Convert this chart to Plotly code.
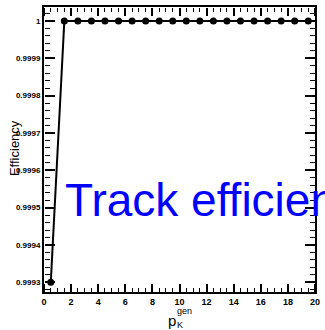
import plotly.graph_objects as go

# Bin centres of the kaon generated momentum and the measured efficiency per bin
p_gen = [0.5, 1.5, 2.5, 3.5, 4.5, 5.5, 6.5, 7.5, 8.5, 9.5,
         10.5, 11.5, 12.5, 13.5, 14.5, 15.5, 16.5, 17.5, 18.5, 19.5]
efficiency = [0.99930, 1.0, 1.0, 1.0, 1.0, 1.0, 1.0, 1.0, 1.0, 1.0,
              1.0, 1.0, 1.0, 1.0, 1.0, 1.0, 1.0, 1.0, 1.0, 1.0]

y_ticks = [0.9993, 0.9994, 0.9995, 0.9996, 0.9997, 0.9998, 0.9999, 1.0]
y_tick_text = ["0.9993", "0.9994", "0.9995", "0.9996", "0.9997", "0.9998", "0.9999", "1"]
x_ticks = [0, 2, 4, 6, 8, 10, 12, 14, 16, 18, 20]

X_RANGE = [0, 20]
Y_RANGE = [0.99927411, 1.0000374]

W, H = 325, 330
L, R, T, B = 44, 5, 6, 38
PW, PH = W - L - R, H - T - B

FONT = "Liberation Sans, Arial, Helvetica, sans-serif"

fig = go.Figure()
fig.add_trace(go.Scatter(
    x=p_gen, y=efficiency, mode="lines+markers",
    line=dict(color="black", width=2),
    marker=dict(color="black", size=7, symbol="circle"),
    showlegend=False, cliponaxis=False,
))
# Transparent copies that attach the tick-only overlay axes
for xa, ya in (("x2", "y2"), ("x3", "y3")):
    fig.add_trace(go.Scatter(
        x=p_gen, y=efficiency, xaxis=xa, yaxis=ya, mode="markers",
        marker=dict(opacity=0), hoverinfo="skip", showlegend=False,
    ))

# Frame and tick labels
fig.update_layout(
    xaxis=dict(
        range=X_RANGE, tickvals=x_ticks, ticks="",
        showline=True, linecolor="black", linewidth=2, mirror=True,
        showgrid=False, zeroline=False,
        tickfont=dict(family=FONT, size=9, color="black", weight="bold"),
    ),
    yaxis=dict(
        range=Y_RANGE, tickvals=y_ticks, ticktext=y_tick_text, ticks="",
        showline=True, linecolor="black", linewidth=2, mirror=True,
        showgrid=False, zeroline=False,
        tickfont=dict(family=FONT, size=8, color="black", weight="bold"),
    ),
)

# Tick marks pointing into the frame on all four sides
x_minor = dict(dtick=0.5, tick0=0, ticks="outside", ticklen=4,
               tickcolor="black", tickwidth=1.2, showgrid=False)
y_minor = dict(dtick=0.00002, tick0=0.9993, ticks="outside", ticklen=5,
               tickcolor="black", tickwidth=1.2, showgrid=False)

def x_ticker(side, pos):
    return dict(overlaying="x", range=X_RANGE, anchor="free", position=pos,
                side=side, tickvals=x_ticks, ticks="outside", ticklen=8, tickwidth=1.5,
                tickcolor="black", showticklabels=False, showline=False,
                showgrid=False, zeroline=False, minor=x_minor)

def y_ticker(side, pos):
    return dict(overlaying="y", range=Y_RANGE, anchor="free", position=pos,
                side=side, tickvals=y_ticks, ticks="outside", ticklen=10, tickwidth=1.5,
                tickcolor="black", showticklabels=False, showline=False,
                showgrid=False, zeroline=False, minor=y_minor)

fig.update_layout(
    xaxis2=x_ticker("top", 0), xaxis3=x_ticker("bottom", 1),
    yaxis2=y_ticker("right", 0), yaxis3=y_ticker("left", 1),
)

def px_x(px):
    return (px - L) / PW

def px_y(py):
    return 1 - (py - T) / PH

annotations = [
    # y-axis title
    dict(text="Efficiency", x=px_x(14), y=px_y(148), textangle=-90,
         font=dict(family=FONT, size=13, color="black")),
    # x-axis title p_K^gen with stacked sub/superscript
    dict(text="p", x=px_x(174), y=px_y(321),
         font=dict(family=FONT, size=15, color="black")),
    dict(text="gen", x=px_x(177), y=px_y(311), xanchor="left",
         font=dict(family=FONT, size=9, color="black")),
    dict(text="K", x=px_x(177), y=px_y(325), xanchor="left",
         font=dict(family=FONT, size=9, color="black")),
    # large label across the frame
    dict(text="Track efficiency", x=px_x(63), y=px_y(200), xanchor="left",
         font=dict(family=FONT, size=46, color="blue")),
]
for a in annotations:
    a.setdefault("xanchor", "center")
    a.update(xref="paper", yref="paper", yanchor="middle", showarrow=False)

fig.update_layout(
    width=W, height=H,
    margin=dict(l=L, r=R, t=T, b=B),
    paper_bgcolor="white", plot_bgcolor="white",
    annotations=annotations,
)

fig.write_html("out.html")
